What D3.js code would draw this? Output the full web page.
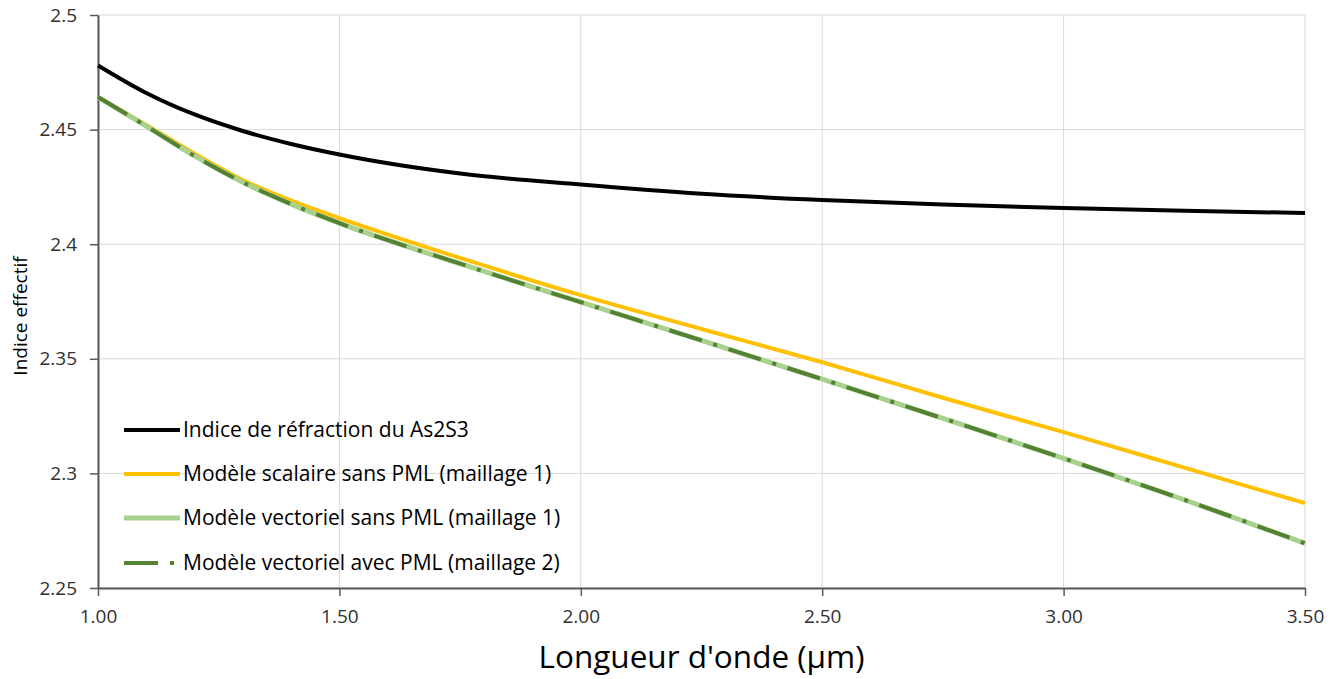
<!DOCTYPE html>
<html>
<head>
<meta charset="utf-8">
<script src="https://cdn.jsdelivr.net/npm/d3@7"></script>
<style>
  html, body { margin: 0; padding: 0; background: #ffffff; }
  svg { display: block; font-family: "Open Sans", sans-serif; }
</style>
</head>
<body>
<svg id="chart" width="1336" height="679"></svg>
<script>
// Wavelength samples (µm)
const wavelengths = [1.0, 1.1, 1.2, 1.3, 1.4, 1.5, 1.75, 2.0, 2.25, 2.5, 2.75, 3.0, 3.25, 3.5];

// Effective index for each curve
const indexAs2S3      = [2.478, 2.466, 2.4566, 2.4494, 2.4437, 2.4391, 2.4308, 2.4260, 2.4220, 2.4193, 2.4173, 2.4158, 2.4146, 2.4136];
const scalarNoPML     = [2.4642, 2.452, 2.4395, 2.428, 2.419, 2.4114, 2.394, 2.3778, 2.363, 2.3485, 2.333, 2.318, 2.3025, 2.287];
const vectorNoPML     = [2.4642, 2.4515, 2.4385, 2.427, 2.4175, 2.4092, 2.3915, 2.3747, 2.358, 2.3411, 2.324, 2.3066, 2.2885, 2.2695];
const vectorWithPML   = [2.4642, 2.4515, 2.4385, 2.427, 2.4175, 2.4092, 2.3915, 2.3747, 2.358, 2.3411, 2.324, 2.3066, 2.2885, 2.2695];

const seriesNames = [
  "Indice de réfraction du As2S3",
  "Modèle scalaire sans PML (maillage 1)",
  "Modèle vectoriel sans PML (maillage 1)",
  "Modèle vectoriel avec PML (maillage 2)"
];

const xTicks = [1.0, 1.5, 2.0, 2.5, 3.0, 3.5];
const yTicks = [2.25, 2.3, 2.35, 2.4, 2.45, 2.5];

const xTitle = "Longueur d'onde (µm)";
const yTitle = "Indice effectif";

const W = 1336, H = 679;
const margin = { top: 15, right: 31, bottom: 91, left: 98 };
const innerW = W - margin.left - margin.right;
const innerH = H - margin.top - margin.bottom;

const svg = d3.select("#chart");
const g = svg.append("g").attr("transform", `translate(${margin.left},${margin.top})`);

const x = d3.scaleLinear().domain([1.0, 3.5]).range([0, innerW]);
const y = d3.scaleLinear().domain([2.25, 2.5]).range([innerH, 0]);

// Gridlines
g.append("g").selectAll("line.h").data(yTicks).join("line")
  .attr("x1", 0).attr("x2", innerW)
  .attr("y1", d => y(d)).attr("y2", d => y(d))
  .attr("stroke", "#d9d9d9").attr("stroke-width", 1);
g.append("g").selectAll("line.v").data(xTicks).join("line")
  .attr("y1", 0).attr("y2", innerH)
  .attr("x1", d => x(d)).attr("x2", d => x(d))
  .attr("stroke", "#d9d9d9").attr("stroke-width", 1);

// Axes
const xAxis = g.append("g").attr("transform", `translate(0,${innerH})`)
  .call(d3.axisBottom(x).tickValues(xTicks).tickFormat(d3.format(".2f")).tickSize(8).tickPadding(14).tickSizeOuter(0));
const yAxis = g.append("g")
  .call(d3.axisLeft(y).tickValues(yTicks).tickFormat(d => String(+d.toFixed(2))).tickSize(8).tickPadding(13).tickSizeOuter(0));

[xAxis, yAxis].forEach(ax => {
  ax.select(".domain").attr("stroke", "#595959").attr("stroke-width", 2);
  ax.selectAll(".tick line").attr("stroke", "#595959").attr("stroke-width", 1.5);
  ax.selectAll(".tick text").attr("fill", "#303030").style("font-size", "19px").style("font-family", "'Open Sans', sans-serif");
});

// Curves
const seriesData = [indexAs2S3, scalarNoPML, vectorNoPML, vectorWithPML];
const styles = [
  { stroke: "#000000", width: 4, dash: null },
  { stroke: "#ffc000", width: 4, dash: null },
  { stroke: "#a9d18e", width: 5, dash: null },
  { stroke: "#548235", width: 4, dash: "34,12,4,12" }
];

const line = d3.line()
  .x(d => x(d[0]))
  .y(d => y(d[1]))
  .curve(d3.curveMonotoneX);

seriesData.forEach((vals, i) => {
  const pts = wavelengths.map((w, j) => [w, vals[j]]);
  g.append("path")
    .datum(pts)
    .attr("fill", "none")
    .attr("stroke", styles[i].stroke)
    .attr("stroke-width", styles[i].width)
    .attr("stroke-dasharray", styles[i].dash)
    .attr("d", line);
});

// Legend
const legendRows = [430, 474, 518, 563];
const legend = svg.append("g");
seriesNames.forEach((name, i) => {
  const ly = legendRows[i];
  legend.append("line")
    .attr("x1", 124).attr("x2", 180).attr("y1", ly).attr("y2", ly)
    .attr("stroke", styles[i].stroke)
    .attr("stroke-width", styles[i].width)
    .attr("stroke-dasharray", styles[i].dash);
  legend.append("text")
    .attr("x", 183).attr("y", ly + 7)
    .attr("fill", "#000")
    .style("font-size", "21px")
    .text(name);
});

// Axis titles
svg.append("text")
  .attr("x", margin.left + innerW / 2).attr("y", 668)
  .attr("text-anchor", "middle")
  .attr("fill", "#000")
  .style("font-size", "31.5px")
  .text(xTitle);

svg.append("text")
  .attr("transform", `translate(27,316) rotate(-90)`)
  .attr("text-anchor", "middle")
  .attr("fill", "#000")
  .style("font-size", "19px")
  .text(yTitle);
</script>
</body>
</html>
